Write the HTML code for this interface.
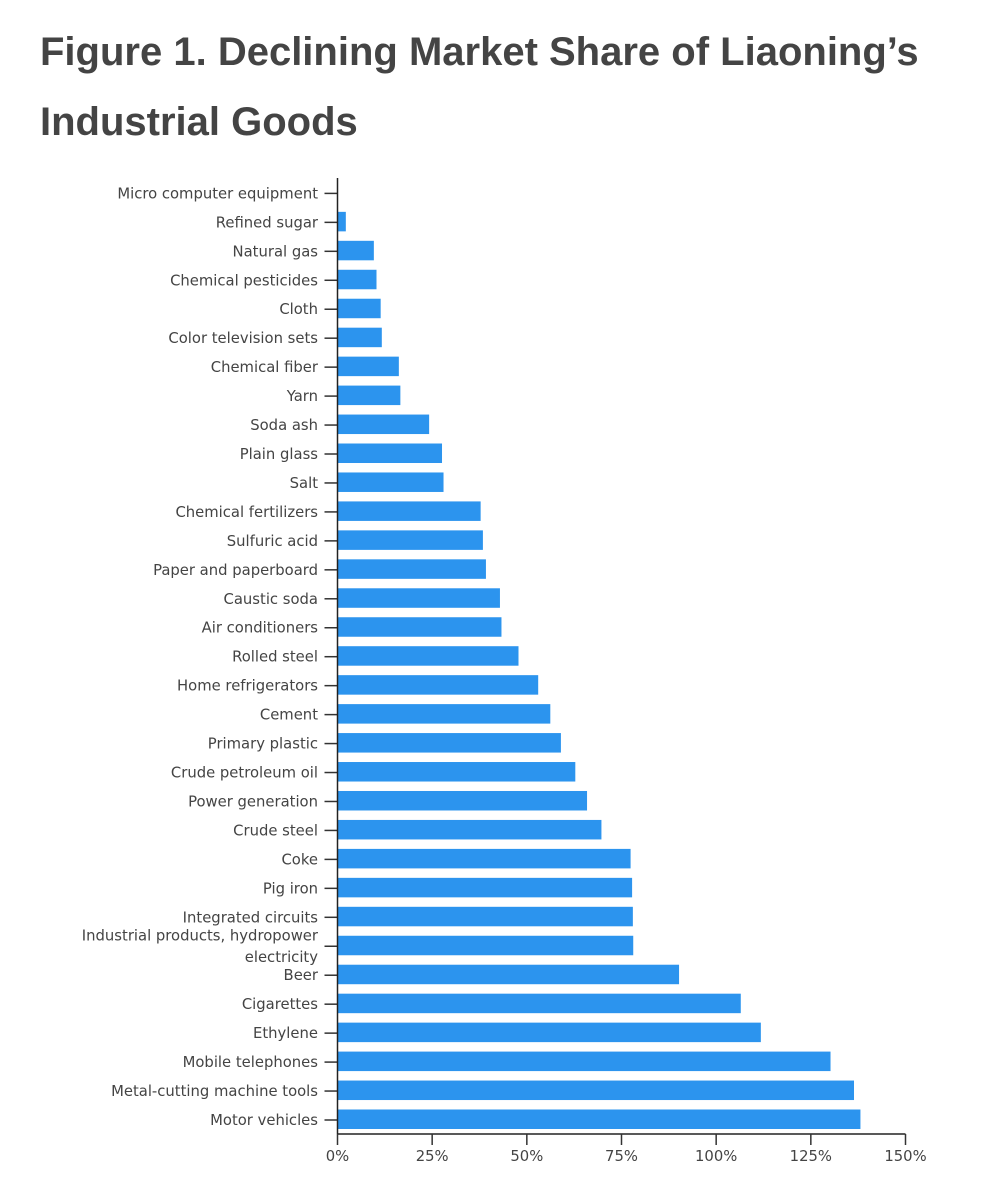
<!DOCTYPE html>
<html lang="en">
<head>
<meta charset="utf-8">
<title>Figure 1. Declining Market Share of Liaoning's Industrial Goods</title>
<style>
html,body{margin:0;padding:0;background:#fff;}
body{width:987px;height:1200px;overflow:hidden;position:relative;}
h1{position:absolute;left:40px;top:17px;margin:0;width:930px;font:bold 40px/70px "Liberation Sans",sans-serif;color:#444;}
svg{position:absolute;left:0;top:0;}
text{font-family:"DejaVu Sans",sans-serif;font-size:14.8px;fill:#444;}
</style>
</head>
<body>
<h1>Figure 1. Declining Market Share of Liaoning’s<br>Industrial Goods</h1>
<svg id="chart" width="987" height="1200" viewBox="0 0 987 1200" xmlns="http://www.w3.org/2000/svg"></svg>
<script>
const categories = ["Micro computer equipment","Refined sugar","Natural gas","Chemical pesticides","Cloth","Color television sets","Chemical fiber","Yarn","Soda ash","Plain glass","Salt","Chemical fertilizers","Sulfuric acid","Paper and paperboard","Caustic soda","Air conditioners","Rolled steel","Home refrigerators","Cement","Primary plastic","Crude petroleum oil","Power generation","Crude steel","Coke","Pig iron","Integrated circuits","Industrial products, hydropower|electricity","Beer","Cigarettes","Ethylene","Mobile telephones","Metal-cutting machine tools","Motor vehicles"];
const values = [0,2.2,9.6,10.3,11.4,11.7,16.2,16.6,24.2,27.6,28,37.8,38.4,39.2,42.9,43.3,47.8,53,56.2,59,62.8,65.9,69.7,77.4,77.8,78,78.1,90.2,106.5,111.8,130.2,136.4,138.1];
const xTicks = [0,25,50,75,100,125,150];

const NS = "http://www.w3.org/2000/svg";
const svg = document.getElementById("chart");
const plotLeft = 337.5, plotRight = 905.5, plotTop = 178, plotBottom = 1134;
const firstBand = 193.4, lastBand = 1120;
const xScale = v => plotLeft + (v / 150) * (plotRight - plotLeft);
const yScale = i => firstBand + i * (lastBand - firstBand) / (categories.length - 1);

function make(tag, attrs, text) {
  const el = document.createElementNS(NS, tag);
  for (const k in attrs) el.setAttribute(k, attrs[k]);
  if (text !== undefined) el.textContent = text;
  return el;
}

const barH = 19.5;
categories.forEach((name, i) => {
  const y = yScale(i);
  const bar = make("rect", {x: plotLeft, y: y - 10.5, width: Math.max(0, xScale(values[i]) - plotLeft), height: barH, fill: "#2c94ee"});
  
  
  svg.appendChild(bar);

  const tick = make("line", {x1: plotLeft - 13, x2: plotLeft, y1: y, y2: y, stroke: "#333", "stroke-width": 1.5});
  
  
  svg.appendChild(tick);

  const lines = name.split("|");
  lines.forEach((ln, j) => {
    const offset = lines.length > 1 ? (j === 0 ? -6 : 15.5) : 5;
    const label = make("text", {x: plotLeft - 19.5, y: y + offset, "text-anchor": "end"}, ln);
    
    
    svg.appendChild(label);
  });
});

const yAxis = make("line", {x1: plotLeft, x2: plotLeft, y1: plotTop, y2: plotBottom, stroke: "#222", "stroke-width": 1.5});


svg.appendChild(yAxis);

const xAxis = make("line", {x1: plotLeft, x2: plotRight, y1: plotBottom, y2: plotBottom, stroke: "#222", "stroke-width": 1.5});


svg.appendChild(xAxis);

xTicks.forEach(t => {
  const x = xScale(t);
  const tick = make("line", {x1: x, x2: x, y1: plotBottom, y2: plotBottom + 11, stroke: "#333", "stroke-width": 1.5});
  
  
  svg.appendChild(tick);

  const label = make("text", {x: x, y: plotBottom + 27, "text-anchor": "middle"}, t + "%");
  
  
  svg.appendChild(label);
});
</script>
</body>
</html>
